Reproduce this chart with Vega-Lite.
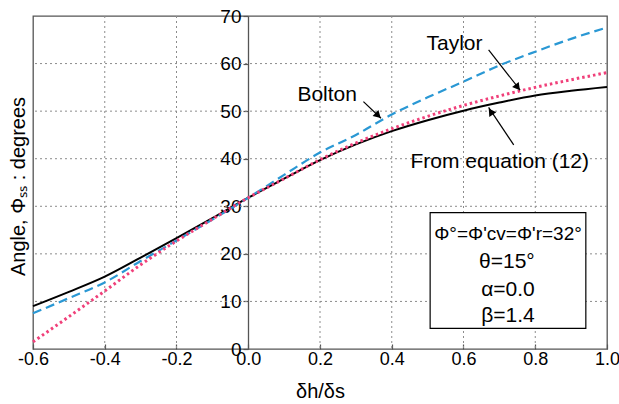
{
  "$schema": "https://vega.github.io/schema/vega-lite/v6.json",
  "width": 574,
  "height": 333,
  "autosize": {"type": "none"},
  "padding": {"left": 33, "top": 16, "right": 12, "bottom": 55},
  "background": "white",
  "config": {
    "view": {"stroke": "#555555", "strokeWidth": 1.3},
    "font": "Liberation Sans",
    "locale": {"number": {"decimal": ".", "thousands": ",", "grouping": [3], "currency": ["$", ""], "minus": "-"}}
  },
  "datasets": {
    "curves": [
      {"x": -0.6, "y": 9.0, "s": "eq"}, {"x": -0.5, "y": 12.0, "s": "eq"}, {"x": -0.4, "y": 15.2, "s": "eq"},
      {"x": -0.3, "y": 19.2, "s": "eq"}, {"x": -0.2, "y": 23.3, "s": "eq"}, {"x": -0.1, "y": 27.5, "s": "eq"},
      {"x": 0.0, "y": 31.8, "s": "eq"}, {"x": 0.1, "y": 35.8, "s": "eq"}, {"x": 0.2, "y": 39.7, "s": "eq"},
      {"x": 0.3, "y": 43.0, "s": "eq"}, {"x": 0.4, "y": 45.8, "s": "eq"}, {"x": 0.5, "y": 48.1, "s": "eq"},
      {"x": 0.6, "y": 50.1, "s": "eq"}, {"x": 0.7, "y": 51.8, "s": "eq"}, {"x": 0.8, "y": 53.3, "s": "eq"},
      {"x": 0.9, "y": 54.3, "s": "eq"}, {"x": 1.0, "y": 55.1, "s": "eq"},
      {"x": -0.6, "y": 7.5, "s": "bolton"}, {"x": -0.5, "y": 10.7, "s": "bolton"}, {"x": -0.4, "y": 14.0, "s": "bolton"},
      {"x": -0.3, "y": 18.5, "s": "bolton"}, {"x": -0.2, "y": 22.8, "s": "bolton"}, {"x": -0.1, "y": 27.2, "s": "bolton"},
      {"x": 0.0, "y": 31.8, "s": "bolton"}, {"x": 0.1, "y": 36.6, "s": "bolton"}, {"x": 0.2, "y": 41.3, "s": "bolton"},
      {"x": 0.3, "y": 45.0, "s": "bolton"}, {"x": 0.4, "y": 49.3, "s": "bolton"}, {"x": 0.5, "y": 52.9, "s": "bolton"},
      {"x": 0.6, "y": 56.2, "s": "bolton"}, {"x": 0.7, "y": 59.6, "s": "bolton"}, {"x": 0.8, "y": 62.5, "s": "bolton"},
      {"x": 0.9, "y": 65.2, "s": "bolton"}, {"x": 1.0, "y": 67.6, "s": "bolton"},
      {"x": -0.6, "y": 1.5, "s": "taylor"}, {"x": -0.5, "y": 6.8, "s": "taylor"}, {"x": -0.4, "y": 12.2, "s": "taylor"},
      {"x": -0.3, "y": 17.7, "s": "taylor"}, {"x": -0.2, "y": 22.7, "s": "taylor"}, {"x": -0.1, "y": 27.3, "s": "taylor"},
      {"x": 0.0, "y": 31.8, "s": "taylor"}, {"x": 0.1, "y": 35.8, "s": "taylor"}, {"x": 0.2, "y": 39.8, "s": "taylor"},
      {"x": 0.3, "y": 43.3, "s": "taylor"}, {"x": 0.4, "y": 46.3, "s": "taylor"}, {"x": 0.5, "y": 48.9, "s": "taylor"},
      {"x": 0.6, "y": 51.2, "s": "taylor"}, {"x": 0.7, "y": 53.2, "s": "taylor"}, {"x": 0.8, "y": 55.0, "s": "taylor"},
      {"x": 0.9, "y": 56.6, "s": "taylor"}, {"x": 1.0, "y": 58.1, "s": "taylor"}
    ],
    "gridx": [{"gx": -0.4}, {"gx": -0.2}, {"gx": 0.2}, {"gx": 0.4}, {"gx": 0.6}, {"gx": 0.8}],
    "gridy": [{"gy": 10}, {"gy": 20}, {"gy": 30}, {"gy": 40}, {"gy": 50}, {"gy": 60}],
    "arrows": [
      {"name": "taylor", "x": 0.670, "y": 62.9, "x2": 0.758, "y2": 54.4, "hx": 0.751, "hy": 55.0},
      {"name": "bolton", "x": 0.321, "y": 52.0, "x2": 0.370, "y2": 48.5, "hx": 0.362, "hy": 49.1},
      {"name": "eq", "x": 0.740, "y": 42.9, "x2": 0.670, "y2": 50.8, "hx": 0.676, "hy": 49.9}
    ],
    "labels": [
      {"x": 0.575, "y": 62.9, "t": "Taylor"},
      {"x": 0.220, "y": 52.1, "t": "Bolton"},
      {"x": 0.701, "y": 38.0, "t": "From equation (12)"}
    ],
    "box": [{"x": 0.507, "x2": 0.941, "y": 4.35, "y2": 28.65}],
    "boxtext": [
      {"x": 0.724, "y": 22.9, "t": "Φ°=Φ'cv=Φ'r=32°", "size": "small"},
      {"x": 0.721, "y": 17.0, "t": "θ=15°", "size": "big"},
      {"x": 0.724, "y": 11.2, "t": "α=0.0", "size": "big"},
      {"x": 0.724, "y": 5.6, "t": "β=1.4", "size": "big"}
    ]
  },
  "layer": [
    {
      "data": {"name": "gridx"},
      "mark": {"type": "rule", "stroke": "#8c8c8c", "strokeWidth": 1, "strokeDash": [2, 3]},
      "encoding": {
        "x": {
          "field": "gx", "type": "quantitative",
          "scale": {"domain": [-0.6, 1.0], "nice": false, "zero": false},
          "axis": {
            "values": [-0.6, -0.4, -0.2, 0.0, 0.2, 0.4, 0.6, 0.8, 1.0],
            "format": ".1f", "labelFlush": false, "grid": false,
            "labelFontSize": 18, "labelColor": "black", "labelPadding": 6,
            "domain": false, "tickSize": -5, "tickColor": "#555555", "tickWidth": 1.2,
            "title": "δh/δs", "titleFontSize": 20, "titleFontWeight": "normal", "titleColor": "black",
            "titleY": 48, "titleBaseline": "alphabetic"
          }
        }
      }
    },
    {
      "data": {"name": "gridy"},
      "mark": {"type": "rule", "stroke": "#8c8c8c", "strokeWidth": 1, "strokeDash": [2, 3]},
      "encoding": {
        "y": {
          "field": "gy", "type": "quantitative",
          "scale": {"domain": [0, 70], "nice": false},
          "axis": {
            "values": [0, 10, 20, 30, 40, 50, 60, 70],
            "offset": -215, "labelFlush": false, "grid": false,
            "labelFontSize": 19, "labelColor": "black", "labelPadding": 2,
            "domainColor": "#555555", "domainWidth": 1.3,
            "tickSize": 5, "tickColor": "#555555", "tickWidth": 1.2,
            "title": "Angle, Φₛₛ : degrees", "titleFontSize": 20, "titleFontWeight": "normal", "titleColor": "black",
            "titleAngle": -90, "titleX": -224, "titleY": 170, "titleAlign": "center", "titleBaseline": "alphabetic"
          }
        }
      }
    },
    {
      "data": {"name": "curves"},
      "transform": [{"filter": "datum.s === 'eq'"}],
      "mark": {"type": "line", "color": "black", "strokeWidth": 2, "interpolate": "monotone"},
      "encoding": {"x": {"field": "x", "type": "quantitative"}, "y": {"field": "y", "type": "quantitative"}}
    },
    {
      "data": {"name": "curves"},
      "transform": [{"filter": "datum.s === 'bolton'"}],
      "mark": {"type": "line", "color": "#2a98d4", "strokeWidth": 2.2, "strokeDash": [9, 5], "interpolate": "monotone"},
      "encoding": {"x": {"field": "x", "type": "quantitative"}, "y": {"field": "y", "type": "quantitative"}}
    },
    {
      "data": {"name": "curves"},
      "transform": [{"filter": "datum.s === 'taylor'"}],
      "mark": {"type": "line", "color": "#f0407a", "strokeWidth": 3, "strokeDash": [2.5, 3], "interpolate": "monotone"},
      "encoding": {"x": {"field": "x", "type": "quantitative"}, "y": {"field": "y", "type": "quantitative"}}
    },
    {
      "data": {"name": "arrows"},
      "mark": {"type": "rule", "color": "black", "strokeWidth": 1.2},
      "encoding": {
        "x": {"field": "x", "type": "quantitative"}, "y": {"field": "y", "type": "quantitative"},
        "x2": {"field": "x2"}, "y2": {"field": "y2"}
      }
    },
    {
      "data": {"name": "arrows"},
      "transform": [{"filter": "datum.name === 'taylor'"}],
      "mark": {"type": "point", "shape": "triangle-up", "filled": true, "color": "black", "size": 70, "angle": 142, "opacity": 1},
      "encoding": {"x": {"field": "hx", "type": "quantitative"}, "y": {"field": "hy", "type": "quantitative"}}
    },
    {
      "data": {"name": "arrows"},
      "transform": [{"filter": "datum.name === 'bolton'"}],
      "mark": {"type": "point", "shape": "triangle-up", "filled": true, "color": "black", "size": 70, "angle": 134, "opacity": 1},
      "encoding": {"x": {"field": "hx", "type": "quantitative"}, "y": {"field": "hy", "type": "quantitative"}}
    },
    {
      "data": {"name": "arrows"},
      "transform": [{"filter": "datum.name === 'eq'"}],
      "mark": {"type": "point", "shape": "triangle-up", "filled": true, "color": "black", "size": 70, "angle": 326, "opacity": 1},
      "encoding": {"x": {"field": "hx", "type": "quantitative"}, "y": {"field": "hy", "type": "quantitative"}}
    },
    {
      "data": {"name": "labels"},
      "mark": {"type": "text", "fontSize": 21, "color": "black", "align": "center", "baseline": "alphabetic"},
      "encoding": {
        "x": {"field": "x", "type": "quantitative"}, "y": {"field": "y", "type": "quantitative"},
        "text": {"field": "t"}
      }
    },
    {
      "data": {"name": "box"},
      "mark": {"type": "rect", "fill": "white", "stroke": "black", "strokeWidth": 1.2},
      "encoding": {
        "x": {"field": "x", "type": "quantitative"}, "x2": {"field": "x2"},
        "y": {"field": "y", "type": "quantitative"}, "y2": {"field": "y2"}
      }
    },
    {
      "data": {"name": "boxtext"},
      "mark": {"type": "text", "color": "black", "align": "center", "baseline": "alphabetic"},
      "encoding": {
        "x": {"field": "x", "type": "quantitative"}, "y": {"field": "y", "type": "quantitative"},
        "text": {"field": "t"},
        "size": {"field": "size", "type": "nominal", "scale": {"domain": ["small", "big"], "range": [19, 21]}, "legend": null}
      }
    }
  ]
}
